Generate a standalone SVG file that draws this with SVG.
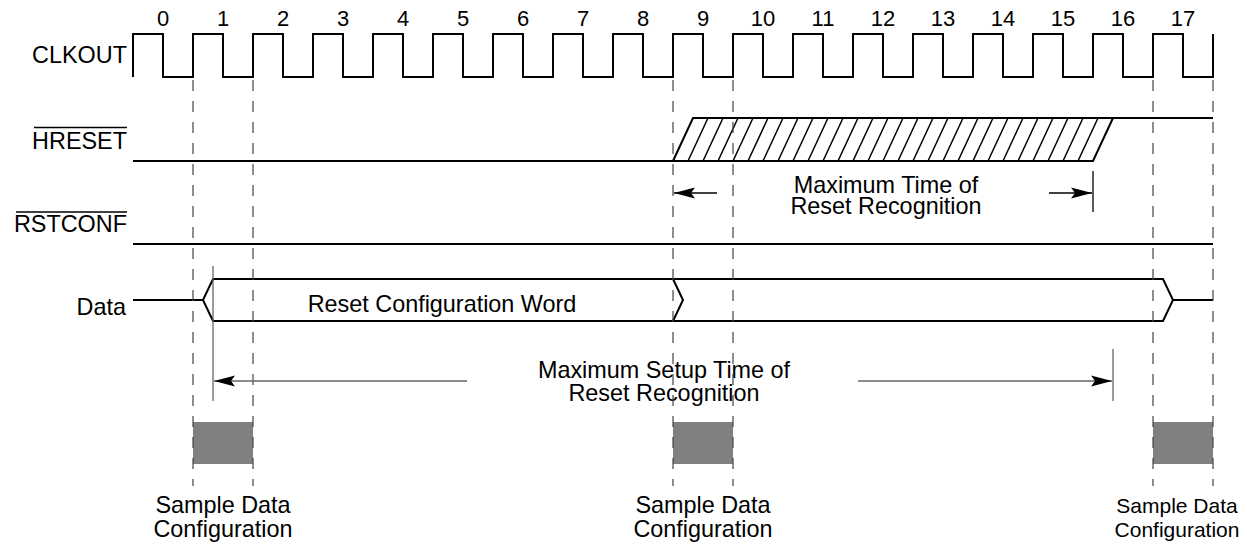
<svg xmlns="http://www.w3.org/2000/svg" width="1247" height="547" viewBox="0 0 1247 547">
<style>
text{font-family:"Liberation Sans",Arial,Helvetica,sans-serif;fill:#000;font-size:23.4px}
.num{font-size:22px;text-anchor:middle}
.lbl{text-anchor:end}
.mid{text-anchor:middle}
.edge{font-size:21px;text-anchor:middle}
.sig{fill:none;stroke:#000;stroke-width:2}
.hatch{fill:none;stroke:#000;stroke-width:1.5}
.dash{fill:none;stroke:#444;stroke-width:1.2;stroke-dasharray:11 10}
.thin{fill:none;stroke:#666;stroke-width:1.3}
.blk{fill:none;stroke:#000;stroke-width:1.3}
.box{fill:#808080}
</style>
<defs>
<marker id="ah" markerWidth="22" markerHeight="12" refX="21" refY="6" orient="auto" markerUnits="userSpaceOnUse">
<path d="M0,0.5 L21,6 L0,11.5 L4,6 Z" fill="#000"/>
</marker>
</defs>

<g id="labels">
<text class="lbl" x="127" y="63">CLKOUT</text>
<text class="lbl" x="127" y="149">HRESET</text>
<line x1="34" y1="127.5" x2="127" y2="127.5" stroke="#000" stroke-width="1.3"/>
<text class="lbl" x="127" y="232">RSTCONF</text>
<line x1="16" y1="212" x2="127" y2="212" stroke="#000" stroke-width="1.3"/>
<text class="lbl" x="126" y="315">Data</text>
</g>

<g id="cycle-numbers">
<text class="num" x="163" y="26">0</text>
<text class="num" x="223" y="26">1</text>
<text class="num" x="283" y="26">2</text>
<text class="num" x="343" y="26">3</text>
<text class="num" x="403" y="26">4</text>
<text class="num" x="463" y="26">5</text>
<text class="num" x="523" y="26">6</text>
<text class="num" x="583" y="26">7</text>
<text class="num" x="643" y="26">8</text>
<text class="num" x="703" y="26">9</text>
<text class="num" x="763" y="26">10</text>
<text class="num" x="823" y="26">11</text>
<text class="num" x="883" y="26">12</text>
<text class="num" x="943" y="26">13</text>
<text class="num" x="1003" y="26">14</text>
<text class="num" x="1063" y="26">15</text>
<text class="num" x="1123" y="26">16</text>
<text class="num" x="1183" y="26">17</text>
</g>

<g id="sample-boxes">
<rect class="box" x="193" y="422" width="60" height="42"/>
<rect class="box" x="673" y="422" width="60" height="42"/>
<rect class="box" x="1153" y="422" width="60" height="42"/>
</g>

<g id="clkout">
<path class="sig" d="M133,77 V34 H163 V77 H193 V34 H223 V77 H253 V34 H283 V77 H313 V34 H343 V77 H373 V34 H403 V77 H433 V34 H463 V77 H493 V34 H523 V77 H553 V34 H583 V77 H613 V34 H643 V77 H673 V34 H703 V77 H733 V34 H763 V77 H793 V34 H823 V77 H853 V34 H883 V77 H913 V34 H943 V77 H973 V34 H1003 V77 H1033 V34 H1063 V77 H1093 V34 H1123 V77 H1153 V34 H1183 V77 H1213 V34"/>
</g>

<g id="hreset">
<path class="sig" d="M133,161 H1093 L1113,118 M673,161 L693,118 H1213"/>
<path class="hatch" d="M688,161 L708,118 M703,161 L723,118 M718,161 L738,118 M733,161 L753,118 M748,161 L768,118 M763,161 L783,118 M778,161 L798,118 M793,161 L813,118 M808,161 L828,118 M823,161 L843,118 M838,161 L858,118 M853,161 L873,118 M868,161 L888,118 M883,161 L903,118 M898,161 L918,118 M913,161 L933,118 M928,161 L948,118 M943,161 L963,118 M958,161 L978,118 M973,161 L993,118 M988,161 L1008,118 M1003,161 L1023,118 M1018,161 L1038,118 M1033,161 L1053,118 M1048,161 L1068,118 M1063,161 L1083,118 M1078,161 L1098,118"/>
</g>

<g id="rstconf">
<line class="sig" x1="133" y1="244" x2="1213" y2="244" stroke-width="1.6"/>
</g>

<g id="data">
<path class="sig" d="M133,300 H203 L213,279 H1163 L1173,300 L1163,321 H213 L203,300 M1173,300 H1213 M673,279 L683,300 L673,321"/>
<text class="mid" x="442" y="312">Reset Configuration Word</text>
</g>

<g id="recognition-label">
<text class="mid" x="886" y="193">Maximum Time of</text>
<text class="mid" x="886" y="214">Reset Recognition</text>
</g>

<g id="setup-label">
<text class="mid" x="664" y="378">Maximum Setup Time of</text>
<text class="mid" x="664" y="401">Reset Recognition</text>
</g>

<g id="sample-labels">
<text class="mid" x="223" y="513">Sample Data</text>
<text class="mid" x="223" y="537">Configuration</text>
<text class="mid" x="703" y="513">Sample Data</text>
<text class="mid" x="703" y="537">Configuration</text>
<text class="edge" x="1177" y="513">Sample Data</text>
<text class="edge" x="1177" y="537">Configuration</text>
</g>

<g id="connectors">
<line class="dash" x1="193" y1="80" x2="193" y2="486"/>
<line class="dash" x1="253" y1="80" x2="253" y2="486"/>
<line class="dash" x1="673" y1="80" x2="673" y2="486"/>
<line class="dash" x1="733" y1="80" x2="733" y2="486"/>
<line class="dash" x1="1153" y1="80" x2="1153" y2="486"/>
<line class="dash" x1="1213" y1="80" x2="1213" y2="486"/>

<line class="blk" x1="717" y1="193" x2="674" y2="193" marker-end="url(#ah)"/>
<line class="blk" x1="1049" y1="193" x2="1092" y2="193" marker-end="url(#ah)"/>
<line class="blk" x1="1093" y1="171" x2="1093" y2="212"/>

<line class="thin" x1="213" y1="266" x2="213" y2="401"/>
<line class="thin" x1="467" y1="381" x2="214" y2="381" marker-end="url(#ah)"/>
<line class="thin" x1="858" y1="381" x2="1112" y2="381" marker-end="url(#ah)"/>
<line class="thin" x1="1113" y1="349" x2="1113" y2="401"/>
</g>
</svg>
